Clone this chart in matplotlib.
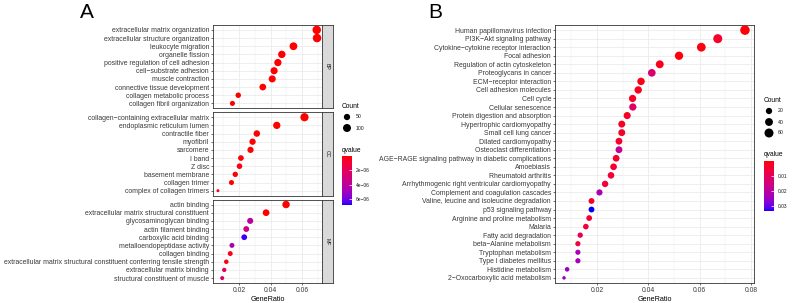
"""Enrichment dot plots: GO (panel A) and KEGG (panel B)."""

import matplotlib

matplotlib.use("Agg")

import matplotlib.colors as mcolors
import matplotlib.pyplot as plt
import numpy as np
from matplotlib.cm import ScalarMappable

plt.rcParams["font.family"] = ["Liberation Sans", "DejaVu Sans"]

# ---------------------------------------------------------------- panel A data
bp_terms = [
    "extracellular matrix organization",
    "extracellular structure organization",
    "leukocyte migration",
    "organelle fission",
    "positive regulation of cell adhesion",
    "cell\u2212substrate adhesion",
    "muscle contraction",
    "connective tissue development",
    "collagen metabolic process",
    "collagen fibril organization",
]
bp_ratio = [0.0693, 0.0695, 0.0545, 0.0471, 0.0446, 0.0422, 0.0410, 0.0350, 0.0194, 0.0157]
bp_count = [118, 119, 93, 80, 76, 72, 70, 60, 33, 27]
bp_qvalue = [1e-12, 1e-12, 2e-10, 5e-10, 3e-09, 4e-09, 8e-09, 2e-08, 6e-08, 9e-08]

cc_terms = [
    "collagen\u2212containing extracellular matrix",
    "endoplasmic reticulum lumen",
    "contractile fiber",
    "myofibril",
    "sarcomere",
    "I band",
    "Z disc",
    "basement membrane",
    "collagen trimer",
    "complex of collagen trimers",
]
cc_ratio = [0.0615, 0.0439, 0.0312, 0.0285, 0.0272, 0.0211, 0.0202, 0.0175, 0.0151, 0.0065]
cc_count = [108, 77, 55, 50, 48, 37, 35, 31, 26, 11]
cc_qvalue = [1e-14, 1e-10, 2e-09, 5e-09, 8e-09, 2e-07, 3e-07, 2e-07, 1e-07, 4e-07]

mf_terms = [
    "actin binding",
    "extracellular matrix structural constituent",
    "glycosaminoglycan binding",
    "actin filament binding",
    "carboxylic acid binding",
    "metalloendopeptidase activity",
    "collagen binding",
    "extracellular matrix structural constituent conferring tensile strength",
    "extracellular matrix binding",
    "structural constituent of muscle",
]
mf_ratio = [0.0498, 0.0371, 0.0270, 0.0245, 0.0232, 0.0154, 0.0143, 0.0118, 0.0105, 0.0092]
mf_count = [82, 61, 45, 40, 38, 25, 24, 19, 17, 15]
mf_qvalue = [2e-08, 1e-08, 4.2e-06, 3.3e-06, 6.6e-06, 4.6e-06, 6e-07, 4e-07, 2.2e-06, 2.6e-06]

a_count_breaks = [50, 100]
a_q_breaks = [2e-06, 4e-06, 6e-06]
a_q_labels = ["2e\u221206", "4e\u221206", "6e\u221206"]
a_q_limits = (1e-07, 6.8e-06)

# ---------------------------------------------------------------- panel B data
kegg_terms = [
    "Human papillomavirus infection",
    "PI3K\u2212Akt signaling pathway",
    "Cytokine\u2212cytokine receptor interaction",
    "Focal adhesion",
    "Regulation of actin cytoskeleton",
    "Proteoglycans in cancer",
    "ECM\u2212receptor interaction",
    "Cell adhesion molecules",
    "Cell cycle",
    "Cellular senescence",
    "Protein digestion and absorption",
    "Hypertrophic cardiomyopathy",
    "Small cell lung cancer",
    "Dilated cardiomyopathy",
    "Osteoclast differentiation",
    "AGE\u2212RAGE signaling pathway in diabetic complications",
    "Amoebiasis",
    "Rheumatoid arthritis",
    "Arrhythmogenic right ventricular cardiomyopathy",
    "Complement and coagulation cascades",
    "Valine, leucine and isoleucine degradation",
    "p53 signaling pathway",
    "Arginine and proline metabolism",
    "Malaria",
    "Fatty acid degradation",
    "beta\u2212Alanine metabolism",
    "Tryptophan metabolism",
    "Type I diabetes mellitus",
    "Histidine metabolism",
    "2\u2212Oxocarboxylic acid metabolism",
]
kegg_ratio = [
    0.0777, 0.0671, 0.0607, 0.0520, 0.0445, 0.0414, 0.0372, 0.0361, 0.0339, 0.0340,
    0.0318, 0.0297, 0.0297, 0.0286, 0.0286, 0.0275, 0.0265, 0.0255, 0.0232, 0.0210,
    0.0179, 0.0179, 0.0170, 0.0157, 0.0135, 0.0126, 0.0126, 0.0126, 0.0084, 0.0072,
]
kegg_count = [
    70, 60, 55, 47, 40, 37, 34, 33, 31, 31,
    29, 27, 27, 26, 26, 25, 24, 23, 21, 19,
    16, 16, 15, 14, 12, 11, 11, 11, 8, 6,
]
kegg_qvalue = [
    0.0010, 0.0040, 0.0015, 0.0012, 0.0025, 0.0125, 0.0020, 0.0030, 0.0030, 0.0115,
    0.0030, 0.0030, 0.0035, 0.0040, 0.0170, 0.0040, 0.0045, 0.0050, 0.0060, 0.0230,
    0.0040, 0.0330, 0.0045, 0.0060, 0.0095, 0.0060, 0.0230, 0.0230, 0.0250, 0.0245,
]

b_count_breaks = [20, 40, 60]
b_q_breaks = [0.01, 0.02, 0.03]
b_q_labels = ["0.01", "0.02", "0.03"]
b_q_limits = (0.0005, 0.0331)

# ---------------------------------------------------------------- helpers
WIDTH, HEIGHT = 792, 303
GRID = "#EBEBEB"
BORDER = "#333333"
TICK_TEXT = "#3A3A3A"

_M = np.array([[0.4124, 0.3576, 0.1805], [0.2126, 0.7152, 0.0722], [0.0193, 0.1192, 0.9505]])
_WHITE = np.array([0.95047, 1.0, 1.08883])


def _rgb_to_lab(rgb):
    lin = np.where(rgb <= 0.04045, rgb / 12.92, ((rgb + 0.055) / 1.055) ** 2.4)
    xyz = lin @ _M.T / _WHITE
    f = np.where(xyz > 0.008856, np.cbrt(xyz), 7.787 * xyz + 16 / 116)
    return np.stack([116 * f[:, 1] - 16, 500 * (f[:, 0] - f[:, 1]), 200 * (f[:, 1] - f[:, 2])], axis=1)


def _lab_to_rgb(lab):
    fy = (lab[:, 0] + 16) / 116
    f = np.stack([fy + lab[:, 1] / 500, fy, fy - lab[:, 2] / 200], axis=1)
    xyz = np.where(f ** 3 > 0.008856, f ** 3, (f - 16 / 116) / 7.787) * _WHITE
    lin = np.clip(xyz @ np.linalg.inv(_M).T, 0, 1)
    return np.where(lin <= 0.0031308, 12.92 * lin, 1.055 * lin ** (1 / 2.4) - 0.055)


def lab_gradient(low, high, n=256):
    """Colour ramp interpolated in Lab space, like ggplot's scale_colour_gradient."""
    lab = _rgb_to_lab(np.array([mcolors.to_rgb(low), mcolors.to_rgb(high)]))
    t = np.linspace(0, 1, n)[:, None]
    return mcolors.ListedColormap(np.clip(_lab_to_rgb(lab[0] * (1 - t) + lab[1] * t), 0, 1))


CMAP = lab_gradient("red", "blue")


def box(left, top, right, bottom):
    """Figure-fraction rectangle from pixel edges."""
    return [left / WIDTH, 1 - bottom / HEIGHT, (right - left) / WIDTH, (bottom - top) / HEIGHT]


def dot_area(count, cmin, cmax, dmin, dmax):
    count = np.asarray(count, dtype=float)
    diam = dmin + np.sqrt((count - cmin) / (cmax - cmin)) * (dmax - dmin)
    return (diam * 72 / 100) ** 2


def style_axis(axis, terms, label_size, xlim, xticks, minor):
    n = len(terms)
    axis.set_ylim(0.4, n + 0.6)
    axis.set_yticks(np.arange(n, 0, -1))
    axis.set_yticklabels(terms, fontsize=label_size, color=TICK_TEXT)
    axis.set_xlim(*xlim)
    axis.set_xticks(xticks)
    axis.set_xticks(minor, minor=True)
    axis.grid(True, which="major", color=GRID, linewidth=0.6)
    axis.grid(True, which="minor", axis="x", color=GRID, linewidth=0.3)
    axis.set_axisbelow(True)
    axis.tick_params(which="major", length=1.6, width=0.5, color=BORDER, pad=1.2)
    axis.tick_params(which="minor", length=0)
    for spine in axis.spines.values():
        spine.set_color(BORDER)
        spine.set_linewidth(0.6)


def add_strip(figure, rect, text):
    strip = figure.add_axes(rect)
    strip.set_facecolor("#D9D9D9")
    strip.set_xticks([])
    strip.set_yticks([])
    for spine in strip.spines.values():
        spine.set_color(BORDER)
        spine.set_linewidth(0.6)
    strip.text(0.5, 0.5, text, rotation=270, ha="center", va="center",
               fontsize=3.8, color="#1A1A1A", transform=strip.transAxes)


def add_size_legend(figure, x, top, breaks, areas, spacing):
    figure.text(x / WIDTH, 1 - top / HEIGHT, "Count", fontsize=4.8, va="center")
    leg = figure.add_axes([0, 0, 1, 1], facecolor="none")
    leg.set_xlim(0, WIDTH)
    leg.set_ylim(HEIGHT, 0)
    leg.axis("off")
    ys = top + 11 + spacing * np.arange(len(breaks))
    leg.scatter(np.full(len(breaks), x + 5), ys, s=areas, color="black", linewidths=0)
    for value, y in zip(breaks, ys):
        leg.text(x + 14, y, str(value), fontsize=3.7, va="center", color="#1A1A1A")


def add_colour_legend(figure, x, top, bottom, limits, breaks, labels):
    figure.text(x / WIDTH, 1 - top / HEIGHT, "qvalue", fontsize=4.8, va="center")
    cax = figure.add_axes(box(x, top + 6, x + 10, bottom))
    norm = mcolors.Normalize(*limits)
    bar = figure.colorbar(ScalarMappable(norm=norm, cmap=CMAP), cax=cax)
    bar.outline.set_visible(False)
    cax.invert_yaxis()
    bar.set_ticks(breaks)
    bar.set_ticklabels(labels)
    cax.tick_params(length=2, width=0.5, color="white", direction="in",
                    labelsize=3.5, labelcolor="#1A1A1A", pad=2.5)


# ---------------------------------------------------------------- figure
fig = plt.figure(figsize=(WIDTH / 100, HEIGHT / 100), dpi=100)

a_xlim = (0.00335, 0.07265)
a_all_counts = bp_count + cc_count + mf_count
a_cmin, a_cmax = min(a_all_counts), max(a_all_counts)
a_norm = mcolors.Normalize(*a_q_limits)

facets = [
    ("BP", bp_terms, bp_ratio, bp_count, bp_qvalue, 25, 108.3),
    ("CC", cc_terms, cc_ratio, cc_count, cc_qvalue, 112.3, 195.6),
    ("MF", mf_terms, mf_ratio, mf_count, mf_qvalue, 199.6, 283),
]
for name, terms, ratio, count, qvalue, top, bottom in facets:
    axis = fig.add_axes(box(213, top, 322, bottom))
    style_axis(axis, terms, 4.95, a_xlim, [0.02, 0.04, 0.06], [0.01, 0.03, 0.05, 0.07])
    ypos = np.arange(len(terms), 0, -1)
    axis.scatter(ratio, ypos, s=dot_area(count, a_cmin, a_cmax, 3.0, 8.5),
                 c=CMAP(a_norm(qvalue)), linewidths=0, zorder=3)
    if name == "MF":
        axis.set_xticklabels(["0.02", "0.04", "0.06"], fontsize=4.9, color=TICK_TEXT)
        axis.set_xlabel("GeneRatio", fontsize=5.2, labelpad=1.5)
    else:
        axis.tick_params(axis="x", labelbottom=False, length=0)
    add_strip(fig, box(322, top, 333, bottom), name)

add_size_legend(fig, 342, 106, a_count_breaks,
                dot_area(a_count_breaks, a_cmin, a_cmax, 3.0, 8.5), 11)
add_colour_legend(fig, 342, 150, 205, a_q_limits, a_q_breaks, a_q_labels)

b_xlim = (0.00368, 0.08122)
b_cmin, b_cmax = min(kegg_count), max(kegg_count)
b_norm = mcolors.Normalize(*b_q_limits)

axis_b = fig.add_axes(box(555, 25, 754, 283))
style_axis(axis_b, kegg_terms, 4.95, b_xlim, [0.02, 0.04, 0.06, 0.08],
           [0.01, 0.03, 0.05, 0.07])
axis_b.scatter(kegg_ratio, np.arange(len(kegg_terms), 0, -1),
               s=dot_area(kegg_count, b_cmin, b_cmax, 3.5, 9.5),
               c=CMAP(b_norm(kegg_qvalue)), linewidths=0, zorder=3)
axis_b.set_xticklabels(["0.02", "0.04", "0.06", "0.08"], fontsize=4.9, color=TICK_TEXT)
axis_b.set_xlabel("GeneRatio", fontsize=5.2, labelpad=1.5)

add_size_legend(fig, 764, 100, b_count_breaks,
                dot_area(b_count_breaks, b_cmin, b_cmax, 3.5, 9.5), 11)
add_colour_legend(fig, 764, 155, 211, b_q_limits, b_q_breaks, b_q_labels)

fig.text(87 / WIDTH, 1 - 13 / HEIGHT, "A", fontsize=15, ha="center", va="center")
fig.text(435 / WIDTH, 1 - 13 / HEIGHT, "B", fontsize=15, ha="center", va="center")

fig.savefig("out.png", dpi=100)
plt.close(fig)
